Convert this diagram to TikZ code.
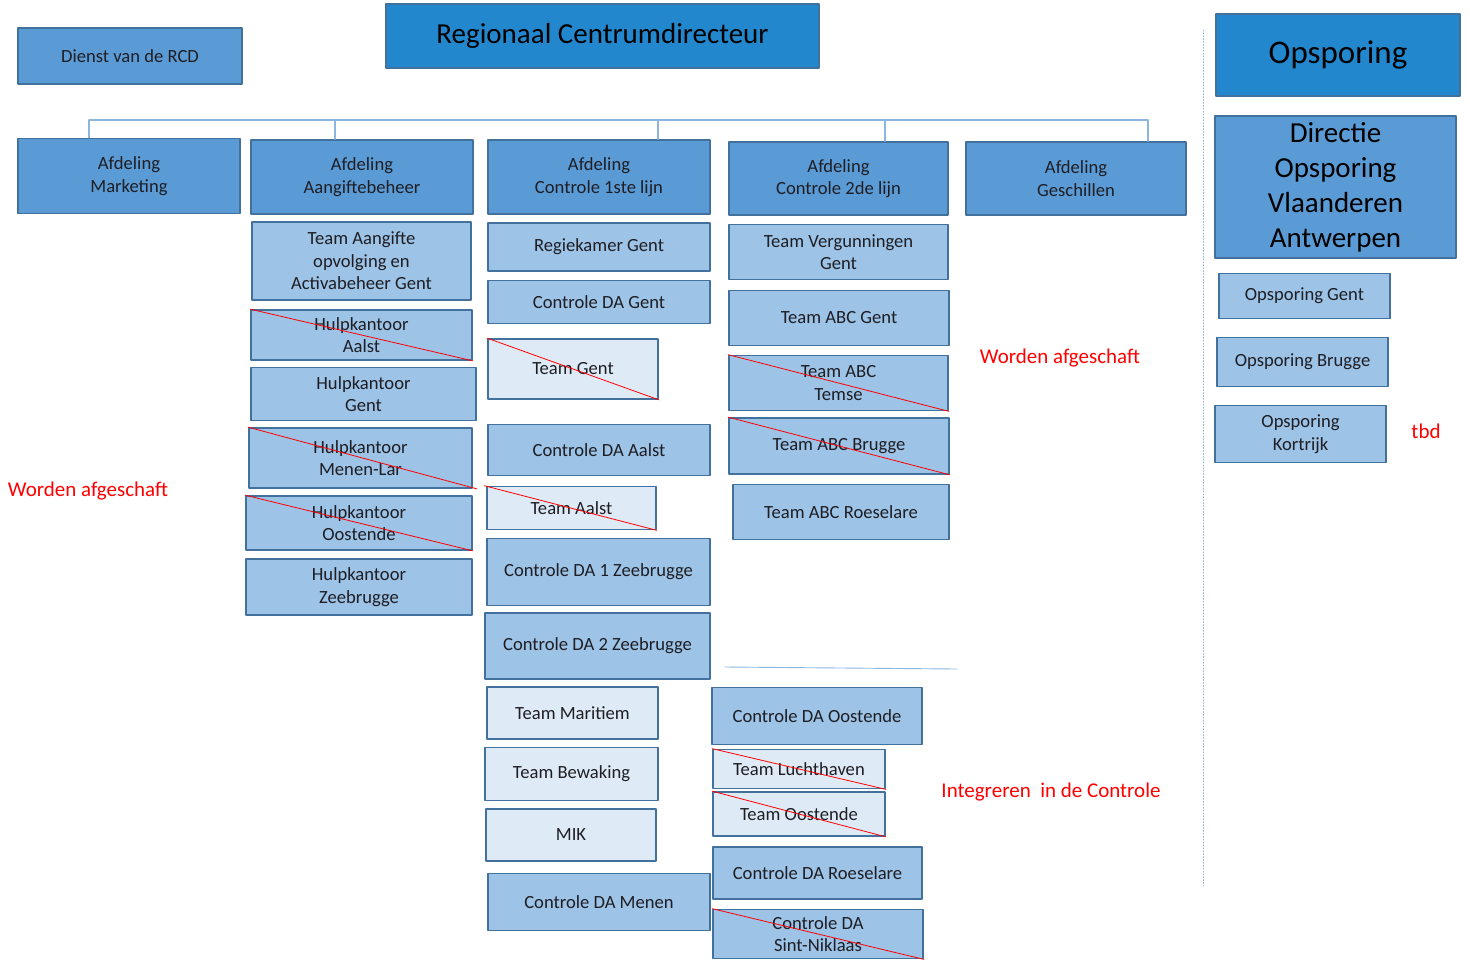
\documentclass[tikz,border=0pt]{standalone}
\usepackage{fontspec}
\setmainfont{Carlito}
\definecolor{headblue}{RGB}{35,135,205}
\definecolor{deptblue}{RGB}{91,155,213}
\definecolor{unitblue}{RGB}{157,195,230}
\definecolor{teamblue}{RGB}{222,235,247}
\definecolor{edgeblue}{RGB}{65,113,156}
\definecolor{linkblue}{RGB}{140,182,224}
\definecolor{txt}{RGB}{30,30,36}
\begin{document}
\begin{tikzpicture}[x=1pt, y=-1pt, line cap=round, line join=round,
    box/.style={draw=edgeblue, line width=1.7pt, align=center, text=txt,
      inner sep=2pt, font=\fontsize{18.6}{22.5}\selectfont},
    sz/.style 2 args={minimum width=#1pt, minimum height=#2pt},
    head/.style={box, fill=headblue, text=black},
    dept/.style={box, fill=deptblue},
    unit/.style={box, fill=unitblue},
    team/.style={box, fill=teamblue},
    strike/.style={red, line width=0.8pt},
    link/.style={linkblue, line width=1.2pt},
    note/.style={text=red, font=\fontsize{21}{25}\selectfont}]
  \useasboundingbox (0,0) rectangle (1470,959);
  % top
  \node[dept, sz={224}{56}] (rcd) at (130,56) {Dienst van de RCD};
  \node[head, sz={433}{64}, font=\fontsize{29}{34}\selectfont] (top) at (602.5,36) {Regionaal Centrumdirecteur};
  % afdelingen
  \node[dept, sz={222}{75}] (mkt) at (129,176) {Afdeling\\Marketing};
  \node[dept, sz={222}{74}] (agb) at (362,177) {Afdeling\\Aangiftebeheer};
  \node[dept, sz={222}{74}] (c1) at (599,177) {Afdeling\\Controle 1ste lijn};
  \node[dept, sz={219}{73}] (c2) at (838.5,178.5) {Afdeling\\Controle 2de lijn};
  \node[dept, sz={220}{73}] (ges) at (1076,178.5) {Afdeling\\Geschillen};
  \coordinate (b1) at (89,120);
  \coordinate (b2) at (335,120);
  \coordinate (b3) at (658,120);
  \coordinate (b4) at (885,120);
  \coordinate (b5) at (1148,120);
  \draw[link] (b1) -- (b5);
  \draw[link] (b1) -- (b1 |- mkt.north);
  \draw[link] (b2) -- (b2 |- agb.north);
  \draw[link] (b3) -- (b3 |- c1.north);
  \draw[link] (b4) -- (b4 |- c2.north);
  \draw[link] (b5) -- (b5 |- ges.north);
  % aangiftebeheer
  \node[unit, sz={219}{78}] (a0) at (361.5,261) {Team Aangifte\\opvolging en\\Activabeheer Gent};
  \node[unit, sz={221}{50}] (a1) at (361.5,335) {Hulpkantoor\\Aalst};
  \node[unit, sz={225}{53}] (a2) at (363.5,394) {Hulpkantoor\\Gent};
  \node[unit, sz={223}{60}] (a3) at (360.5,458) {Hulpkantoor\\Menen-Lar};
  \node[unit, sz={226}{54}] (a4) at (359,523) {Hulpkantoor\\Oostende};
  \node[unit, sz={226}{56}] (a5) at (359,587) {Hulpkantoor\\Zeebrugge};
  \draw[strike] (a1.north west) -- (a1.south east);
  \draw[strike] (a3.north west) -- ([xshift=4pt]a3.south east);
  \draw[strike] (a4.north west) -- (a4.south east);
  % controle 1ste lijn
  \node[unit, sz={222}{48}] (k0) at (599,247) {Regiekamer Gent};
  \node[unit, sz={222}{43}] (k1) at (599,302) {Controle DA Gent};
  \node[team, sz={170}{60}] (k2) at (573,369) {Team Gent};
  \node[unit, sz={222}{51}] (k3) at (599,450) {Controle DA Aalst};
  \node[team, sz={169}{43}] (k4) at (571.5,508) {Team Aalst};
  \node[unit, sz={223}{67}] (k5) at (598.5,572) {Controle DA 1 Zeebrugge};
  \node[unit, sz={225}{66}] (k6) at (597.5,646) {Controle DA 2 Zeebrugge};
  \node[team, sz={171}{52}] (k7) at (572.5,713) {Team Maritiem};
  \node[team, sz={173}{53}] (k8) at (571.5,774) {Team Bewaking};
  \node[team, sz={170}{52}] (k9) at (571,835) {MIK};
  \node[unit, sz={222}{57}] (k10) at (599,902) {Controle DA Menen};
  \draw[strike] (k2.north west) -- (k2.south east);
  \draw[strike] ([xshift=-2pt]k4.north west) -- (k4.south east);
  % controle 2de lijn
  \node[unit, sz={219}{55}] (t0) at (838.5,252) {Team Vergunningen\\Gent};
  \node[unit, sz={220}{55}] (t1) at (839,318) {Team ABC Gent};
  \node[unit, sz={219}{55}] (t2) at (838.5,383) {Team ABC\\Temse};
  \node[unit, sz={220}{56}] (t3) at (839,446) {Team ABC Brugge};
  \node[unit, sz={216}{55}] (t4) at (841,512) {Team ABC Roeselare};
  \draw[strike] (t2.north west) -- (t2.south east);
  \draw[strike] (t3.north west) -- (t3.south east);
  \coordinate (s0) at (725,667);
  \coordinate (s1) at (957,669);
  \draw[link, line width=0.9pt] (s0) -- (s1);
  \node[unit, sz={210}{57}] (t5) at (817,716) {Controle DA Oostende};
  \node[team, sz={172}{39}] (t6) at (799,769) {Team Luchthaven};
  \node[team, sz={172}{44}] (t7) at (799,814) {Team Oostende};
  \node[unit, sz={209}{52}] (t8) at (817.5,873) {Controle DA Roeselare};
  \node[unit, sz={210}{49}] (t9) at (818,934) {Controle DA\\Sint-Niklaas};
  \draw[strike] (t6.north west) -- (t6.south east);
  \draw[strike] (t7.north west) -- (t7.south east);
  \draw[strike] (t9.north west) -- (t9.south east);
  % opsporing
  \coordinate (v0) at (1203,30);
  \coordinate (v1) at (1203,886);
  \draw[link, line width=0.9pt, dotted] (v0) -- (v1);
  \node[head, sz={244}{82}, font=\fontsize{33}{38}\selectfont] (op) at (1338,55) {Opsporing};
  \node[dept, sz={241}{142}, font=\fontsize{29}{35}\selectfont, text=black] (dov) at (1335.5,187) {Directie\\Opsporing\\Vlaanderen\\Antwerpen};
  \node[unit, sz={171}{45}] (o1) at (1304.5,296) {Opsporing Gent};
  \node[unit, sz={171}{49}] (o2) at (1302.5,362) {Opsporing Brugge};
  \node[unit, sz={171}{57}] (o3) at (1300.5,434) {Opsporing\\Kortrijk};
  % opmerkingen
  \node[note] (n1) at (88,491) {Worden afgeschaft};
  \node[note] (n2) at (1060,358) {Worden afgeschaft};
  \node[note] (n3) at (1051,792) {Integreren\ \ in de Controle};
  \node[note] (n4) at (1426,431) {tbd};
\end{tikzpicture}
\end{document}
